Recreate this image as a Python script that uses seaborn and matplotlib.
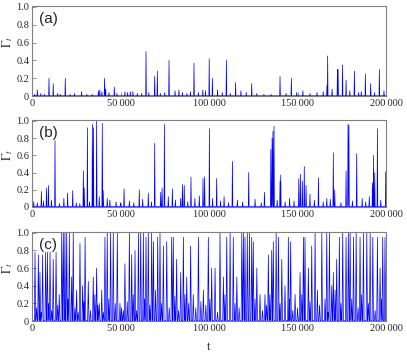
import matplotlib
matplotlib.use("Agg")
import matplotlib.pyplot as plt
import seaborn as sns

# peaks: time t and height of Gamma_t
a_peak_t = [3000, 9600, 12000, 18800, 28000, 38300, 41000, 41600, 46500, 64400,
            69300, 70800, 77400, 91500, 100100, 101900, 109800, 115000, 124100, 140100,
            146500, 166600, 167000, 172500, 172900, 175400, 177400, 182100, 188300, 191300,
            196200]
a_peak_h = [0.07, 0.20, 0.14, 0.20, 0.05, 0.07, 0.20, 0.08, 0.10, 0.50,
            0.22, 0.28, 0.40, 0.37, 0.42, 0.20, 0.40, 0.15, 0.14, 0.22,
            0.20, 0.12, 0.45, 0.30, 0.30, 0.35, 0.18, 0.28, 0.25, 0.14,
            0.30]
a_small_t = [1500, 5000, 7000, 14500, 16000, 21500, 24000, 31000, 34000, 37500,
             39500, 43500, 48000, 52500, 54000, 55500, 57000, 59500, 62000, 66000,
             72500, 75000, 80800, 83000, 85000, 87500, 89500, 94000, 96500, 98000,
             104800, 107500, 112000, 118000, 121000, 127000, 131000, 135000, 143500, 149500,
             153000, 157000, 161000, 164500, 169500, 179500, 184500, 186000, 193500, 198800]
a_small_h = [0.02, 0.03, 0.02, 0.03, 0.02, 0.02, 0.03, 0.02, 0.02, 0.06,
             0.05, 0.04, 0.03, 0.05, 0.04, 0.05, 0.05, 0.03, 0.03, 0.04,
             0.03, 0.04, 0.06, 0.07, 0.04, 0.03, 0.05, 0.04, 0.07, 0.06,
             0.07, 0.04, 0.03, 0.06, 0.04, 0.03, 0.02, 0.02, 0.03, 0.04,
             0.06, 0.03, 0.04, 0.05, 0.08, 0.06, 0.04, 0.05, 0.04, 0.06]

b_peak_t = [5300, 8200, 9300, 13000, 20100, 23000, 29000, 29500, 31300, 34100,
            34700, 36500, 39700, 40200, 52000, 60600, 65700, 69300, 72700, 73500,
            74800, 79300, 84000, 85000, 86000, 89800, 96600, 97500, 100200, 104300,
            113200, 122400, 131300, 134900, 135600, 136100, 136700, 140100, 140500, 150700,
            151600, 152700, 153800, 154800, 161800, 170200, 171000, 177400, 178500, 179000,
            183400, 192300, 192900, 193600, 195100, 199800]
b_peak_h = [0.18, 0.22, 0.25, 0.77, 0.16, 0.19, 0.42, 0.22, 0.92, 0.96,
            0.92, 1.00, 0.97, 0.19, 0.21, 0.20, 0.16, 0.74, 0.17, 0.22,
            0.96, 0.21, 0.10, 0.26, 0.25, 0.35, 0.33, 0.35, 0.91, 0.33,
            0.53, 0.40, 0.17, 0.67, 0.80, 0.88, 0.94, 0.30, 0.37, 0.33,
            0.38, 0.30, 0.47, 0.25, 0.34, 0.63, 0.20, 0.42, 0.96, 0.95,
            0.62, 0.28, 0.60, 0.40, 0.91, 0.41]
b_small_t = [1000, 3000, 6500, 11000, 15500, 18000, 25000, 27000, 32500, 38000,
             42500, 44000, 47500, 50000, 55000, 57500, 62500, 67500, 77000, 81000,
             88000, 92000, 94500, 102000, 106500, 108500, 111000, 116000, 119000, 126000,
             129500, 138500, 143000, 145500, 148000, 157000, 159500, 164500, 166500, 168500,
             174500, 181000, 186500, 188500, 190500, 197000]
b_small_h = [0.06, 0.05, 0.07, 0.08, 0.04, 0.10, 0.05, 0.04, 0.06, 0.12,
             0.10, 0.08, 0.06, 0.05, 0.07, 0.05, 0.09, 0.06, 0.12, 0.08,
             0.06, 0.10, 0.13, 0.10, 0.07, 0.12, 0.05, 0.08, 0.06, 0.09,
             0.05, 0.08, 0.06, 0.10, 0.07, 0.15, 0.08, 0.06, 0.10, 0.09,
             0.05, 0.07, 0.10, 0.06, 0.12, 0.08]

c_peak_t = [1700, 3600, 4500, 6000, 7700, 8700, 10200, 12000, 13600, 15400,
            16800, 17700, 18600, 19600, 21100, 22400, 23300, 25200, 27100, 28600,
            30000, 31800, 34600, 36500, 38000, 39400, 41200, 42500, 44400, 45900,
            48200, 49700, 51600, 52500, 55000, 56300, 58200, 60100, 61400, 62900,
            64400, 65700, 67600, 68600, 71000, 72300, 74200, 76100, 78900, 79800,
            81700, 84000, 85500, 87400, 89600, 91100, 94000, 96800, 99600, 101500,
            103400, 106200, 108100, 110000, 111900, 113700, 115700, 118500, 119400, 120300,
            121600, 122800, 124100, 125000, 127000, 128800, 131600, 133500, 135400, 136300,
            137900, 139200, 141100, 142900, 144800, 146100, 148600, 151400, 153300, 154200,
            156100, 158000, 159900, 161200, 163700, 165500, 166500, 168000, 169300, 170200,
            172100, 173600, 175500, 177400, 178700, 179700, 181600, 183100, 185300, 187200,
            189100, 191000, 192500, 195100, 196600, 198100, 199400]
c_peak_h = [0.78, 0.75, 0.55, 0.75, 0.78, 0.78, 0.78, 0.70, 0.78, 0.30,
            1.00, 1.00, 1.00, 1.00, 1.00, 0.50, 1.00, 0.35, 0.88, 0.40,
            0.95, 0.45, 0.50, 0.60, 0.20, 0.35, 0.95, 1.00, 1.00, 1.00,
            1.00, 0.20, 0.12, 0.65, 1.00, 0.75, 0.80, 1.00, 1.00, 1.00,
            0.95, 1.00, 1.00, 0.90, 0.95, 1.00, 0.85, 0.90, 0.95, 0.95,
            0.70, 0.55, 0.95, 0.50, 0.85, 0.30, 0.95, 0.35, 0.95, 0.60,
            0.60, 1.00, 0.50, 0.95, 1.00, 0.95, 0.50, 1.00, 1.00, 0.95,
            1.00, 1.00, 0.95, 0.90, 0.60, 0.30, 0.30, 0.75, 0.80, 0.90,
            1.00, 0.95, 0.70, 0.40, 0.95, 0.90, 0.30, 0.55, 0.95, 0.95,
            0.60, 0.85, 1.00, 0.35, 1.00, 0.25, 1.00, 1.00, 0.40, 0.55,
            0.70, 0.95, 1.00, 0.95, 1.00, 1.00, 0.95, 1.00, 0.95, 1.00,
            1.00, 1.00, 0.95, 0.95, 0.60, 0.95, 0.95]
c_small_t = [2600, 5200, 9400, 11100, 14500, 20300, 24300, 26100, 29300, 33000,
             35500, 37200, 40300, 43400, 47000, 50600, 53800, 57200, 59100, 63600,
             66600, 69800, 73200, 77500, 80700, 82800, 86400, 88500, 92500, 95400,
             98200, 100500, 104800, 109000, 114700, 117000, 126000, 130200, 132500, 134400,
             140100, 145400, 147300, 150000, 152400, 157000, 162400, 167200, 171200, 174500,
             180600, 184200, 186200, 190000, 193800, 197400]
c_small_h = [0.15, 0.10, 0.20, 0.12, 0.18, 0.25, 0.15, 0.10, 0.22, 0.12,
             0.30, 0.18, 0.10, 0.25, 0.20, 0.15, 0.22, 0.30, 0.12, 0.25,
             0.18, 0.35, 0.20, 0.15, 0.28, 0.12, 0.30, 0.20, 0.15, 0.22,
             0.18, 0.25, 0.10, 0.30, 0.20, 0.15, 0.25, 0.12, 0.18, 0.30,
             0.20, 0.25, 0.12, 0.15, 0.30, 0.22, 0.18, 0.10, 0.35, 0.20,
             0.25, 0.15, 0.30, 0.20, 0.12, 0.25]

panel_labels = ["(a)", "(b)", "(c)"]
x_ticks = [0, 50000, 100000, 150000, 200000]
x_tick_labels = ["0", "50\u2009000", "100\u2009000", "150\u2009000", "200\u2009000"]
y_ticks = [0, 0.2, 0.4, 0.6, 0.8, 1.0]
y_tick_labels = ["0", "0.2", "0.4", "0.6", "0.8", "1.0"]


def spike_series(ts, hs, half):
    # each read-off peak drawn as a narrow spike on a ~0 baseline
    pts = sorted(zip(ts, hs))
    xs, ys = [0], [0.004]
    for t, h in pts:
        xs += [t - half, t, t + half]
        ys += [0.004, h, 0.004]
    xs.append(200000)
    ys.append(0.004)
    return xs, ys


sns.set_style("ticks")
plt.rcParams["font.family"] = ["Liberation Serif", "DejaVu Serif"]
plt.rcParams["mathtext.fontset"] = "stix"

fig = plt.figure(figsize=(4.07, 3.52), dpi=100)
boxes = [(0.0786, 0.727, 0.870, 0.256),
         (0.0786, 0.412, 0.870, 0.247),
         (0.0786, 0.088, 0.870, 0.253)]
panels = [(a_peak_t + a_small_t, a_peak_h + a_small_h, 200),
          (b_peak_t + b_small_t, b_peak_h + b_small_h, 220),
          (c_peak_t + c_small_t, c_peak_h + c_small_h, 380)]

for box, (ts, hs, half), lab in zip(boxes, panels, panel_labels):
    ax = fig.add_axes(box)
    xs, ys = spike_series(ts, hs, half)
    sns.lineplot(x=xs, y=ys, ax=ax, color="#0000ff", lw=0.5,
                 estimator=None, sort=False)
    ax.set_xlim(0, 200000)
    ax.set_ylim(0, 1.01)
    ax.set_xticks(x_ticks)
    ax.set_xticklabels(x_tick_labels)
    ax.set_yticks(y_ticks)
    ax.set_yticklabels(y_tick_labels)
    ax.tick_params(direction="in", length=3, width=0.6, color="#808080",
                   labelsize=7.5, pad=2)
    for s in ax.spines.values():
        s.set_visible(True)
        s.set_color("#808080")
        s.set_linewidth(0.8)
    ax.set_ylabel("")
    ax.text(-0.07, 0.6, r"$\Gamma_t$", transform=ax.transAxes, rotation=90,
            ha="center", va="center", fontsize=9)
    ax.text(0.02, 0.93, lab, transform=ax.transAxes, ha="left", va="top",
            fontsize=11, family="Liberation Sans")

ax.set_xlabel("t", fontsize=9, labelpad=6)

fig.savefig("out.png", dpi=100)
